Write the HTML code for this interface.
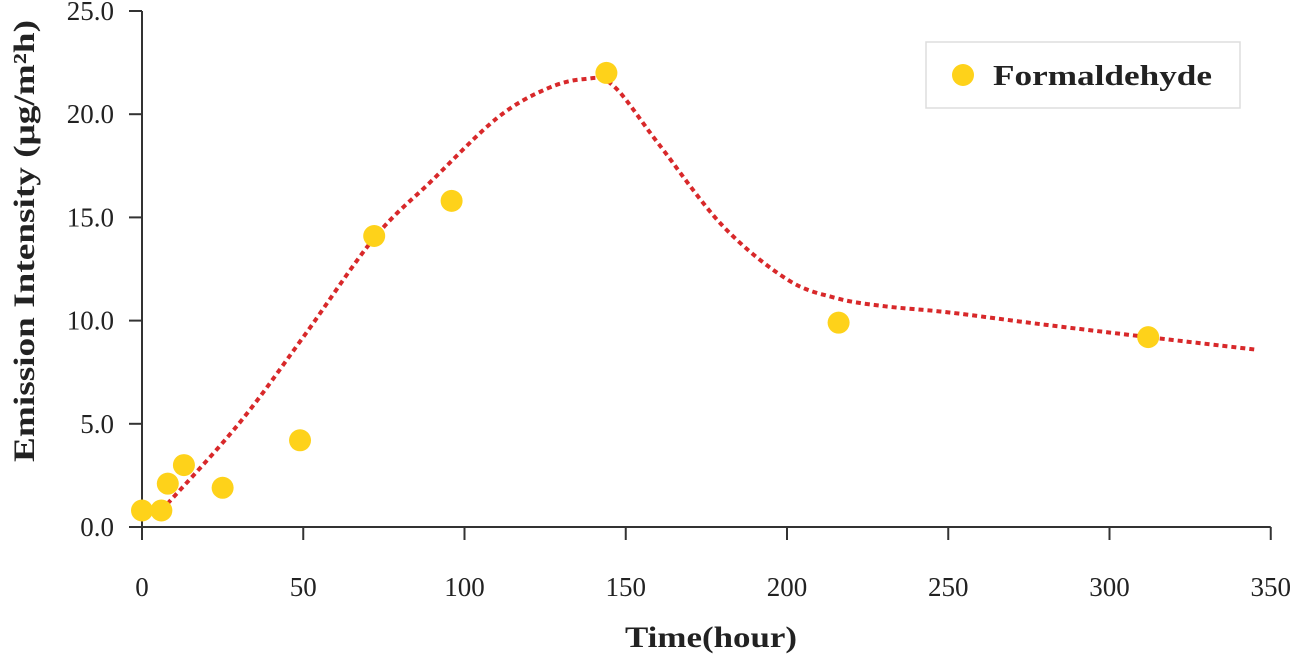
<!DOCTYPE html>
<html><head><meta charset="utf-8"><style>
body{margin:0;background:#fff}
svg{display:block;font-family:"Liberation Serif",serif}
</style></head><body>
<svg id="c" width="1301" height="659">
<g id="axes"></g><g id="curve"></g><g id="pts"></g>
<g>
<rect x="926" y="42" width="314" height="66" fill="#fff" stroke="#ddd" stroke-width="1.5"/>
<circle cx="963" cy="75" r="11" fill="#fed21a"/>
<text x="993" y="85" font-size="28" font-weight="bold" fill="#222" textLength="219" lengthAdjust="spacingAndGlyphs">Formaldehyde</text>
</g>
<text x="711" y="647" font-size="30" font-weight="bold" text-anchor="middle" fill="#222" textLength="172" lengthAdjust="spacingAndGlyphs">Time(hour)</text>
<text transform="translate(34,241) rotate(-90)" font-size="30" font-weight="bold" text-anchor="middle" fill="#222" textLength="442" lengthAdjust="spacingAndGlyphs">Emission Intensity (μg/m²h)</text>
</svg>
<script>
const xTicks=[0,50,100,150,200,250,300,350];
const yTicks=[0,5,10,15,20,25];
const yLabels=["0.0","5.0","10.0","15.0","20.0","25.0"];
const times=[0,6,8,13,25,49,72,96,144,216,312];
const values=[0.8,0.8,2.1,3.0,1.9,4.2,14.1,15.8,22.0,9.9,9.2];
const fitX=[6,30,50,72,90,110,125,137,146,160,180,200,215,230,250,280,312,345];
const fitY=[0.8,5.0,9.2,14.0,16.8,19.8,21.2,21.7,21.4,18.6,14.6,12.0,11.1,10.7,10.4,9.8,9.2,8.6];
const sx=v=>142+v*3.225, sy=v=>527-v*20.64;
const NS="http://www.w3.org/2000/svg";
function mk(t,a,p){const e=document.createElementNS(NS,t);for(const k in a)e.setAttribute(k,a[k]);p.appendChild(e);return e;}
const ax=document.getElementById('axes');
const yl=mk('line',{x1:142,y1:sy(25),x2:142,y2:527,stroke:'#333','stroke-width':2},ax);


const xl=mk('line',{x1:129,y1:527,x2:sx(350),y2:527,stroke:'#333','stroke-width':2},ax);


yTicks.forEach((v,i)=>{
 mk('line',{x1:129,y1:sy(v),x2:142,y2:sy(v),stroke:'#333','stroke-width':2},ax);
 const t=mk('text',{x:114,y:sy(v)+9,'font-size':27,'text-anchor':'end',fill:'#222'},ax);
 t.textContent=yLabels[i];
 
 
});
xTicks.forEach(v=>{
 mk('line',{x1:sx(v),y1:527,x2:sx(v),y2:540,stroke:'#333','stroke-width':2},ax);
 const t=mk('text',{x:sx(v),y:596,'font-size':27,'text-anchor':'middle',fill:'#222'},ax);
 t.textContent=v;
 
 
});
const P=fitX.map((x,i)=>[sx(x),sy(fitY[i])]);
let d=`M${P[0][0]},${P[0][1]}`;
for(let i=0;i<P.length-1;i++){const p0=P[i-1]||P[i],p1=P[i],p2=P[i+1],p3=P[i+2]||P[i+1];
 d+=` C${p1[0]+(p2[0]-p0[0])/6},${p1[1]+(p2[1]-p0[1])/6} ${p2[0]-(p3[0]-p1[0])/6},${p2[1]-(p3[1]-p1[1])/6} ${p2[0]},${p2[1]}`;}
const cv=mk('path',{d:d,fill:'none',stroke:'#d8282a','stroke-width':4,'stroke-dasharray':'5 4'},document.getElementById('curve'));


const pg=document.getElementById('pts');
times.forEach((t,i)=>{
 const c=mk('circle',{cx:sx(t),cy:sy(values[i]),r:11,fill:'#fed21a'},pg);
 
 
});
</script>
</body></html>
